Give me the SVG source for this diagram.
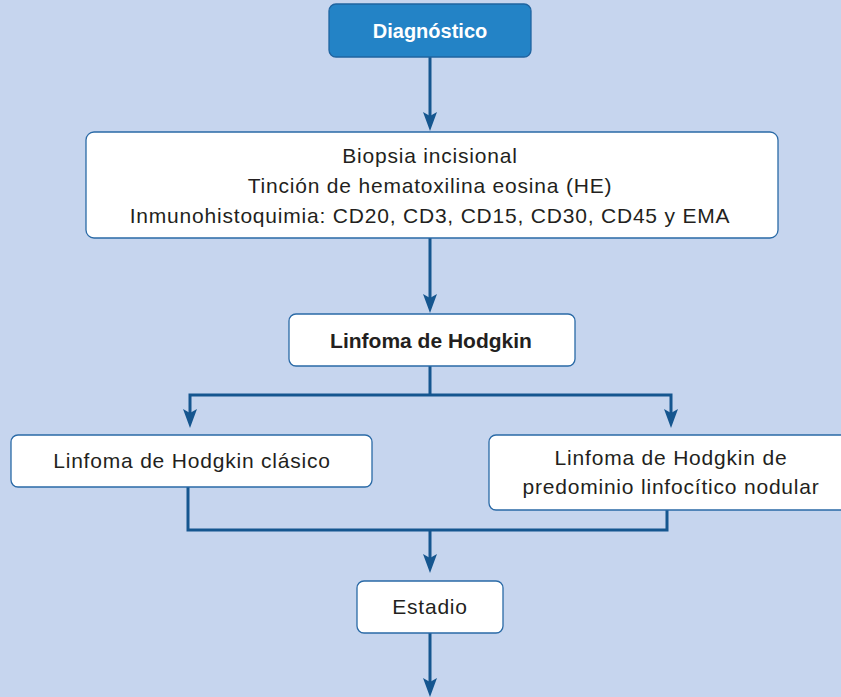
<svg xmlns="http://www.w3.org/2000/svg" width="841" height="697" viewBox="0 0 841 697">
<style>
.bg{fill:#c6d5ee}
.box{fill:#ffffff;stroke:#2a6aa6;stroke-width:1.3}
.t{font-family:"Liberation Sans",Arial,sans-serif;font-size:21px;letter-spacing:0.8px;fill:#231f20;text-anchor:middle}
.b{font-weight:bold;letter-spacing:0}
.w{fill:#ffffff;font-size:20px}
.c{fill:none;stroke:#15568f;stroke-width:3}
.ah{fill:#15568f}
</style>
<rect class="bg" x="0" y="0" width="841" height="697"/>
<g id="connectors">
<path class="c" d="M430,57 V126"/>
<path class="ah" d="M423,112 L430,116 L437,112 L430,131 Z"/>
<path class="c" d="M430,238 V308"/>
<path class="ah" d="M423,294 L430,298 L437,294 L430,313 Z"/>
<path class="c" d="M430,366 V395 M190,395 H671 M190,393.5 V423 M671,393.5 V423"/>
<path class="ah" d="M183,409 L190,413 L197,409 L190,428 Z"/>
<path class="ah" d="M664,409 L671,413 L678,409 L671,428 Z"/>
<path class="c" d="M188,487 V530 H667 V510 M430,530 V568"/>
<path class="ah" d="M423,554 L430,558 L437,554 L430,573 Z"/>
<path class="c" d="M430,633 V692"/>
<path class="ah" d="M423,678 L430,682 L437,678 L430,697 Z"/>
</g>
<g id="diagnostico">
<rect x="329" y="4" width="202" height="53" rx="7" fill="#2383c6" stroke="#1f64a0" stroke-width="1.3"/>
<text class="t b w" x="430" y="38">Diagnóstico</text>
</g>
<g id="biopsia">
<rect class="box" x="86" y="132" width="692" height="106" rx="8"/>
<text class="t" x="430" y="163">Biopsia incisional</text>
<text class="t" x="430" y="193">Tinción de hematoxilina eosina (HE)</text>
<text class="t" x="430" y="223">Inmunohistoquimia: CD20, CD3, CD15, CD30, CD45 y EMA</text>
</g>
<g id="linfoma">
<rect class="box" x="289" y="314" width="286" height="52" rx="7"/>
<text class="t b" x="431" y="348">Linfoma de Hodgkin</text>
</g>
<g id="clasico">
<rect class="box" x="11" y="435" width="361" height="52" rx="7"/>
<text class="t" x="192" y="468">Linfoma de Hodgkin clásico</text>
</g>
<g id="nodular">
<rect class="box" x="489" y="435" width="360" height="75" rx="7"/>
<text class="t" x="671" y="465">Linfoma de Hodgkin de</text>
<text class="t" x="671" y="494">predominio linfocítico nodular</text>
</g>
<g id="estadio">
<rect class="box" x="357" y="581" width="146" height="52" rx="7"/>
<text class="t" x="430" y="614">Estadio</text>
</g>
</svg>
